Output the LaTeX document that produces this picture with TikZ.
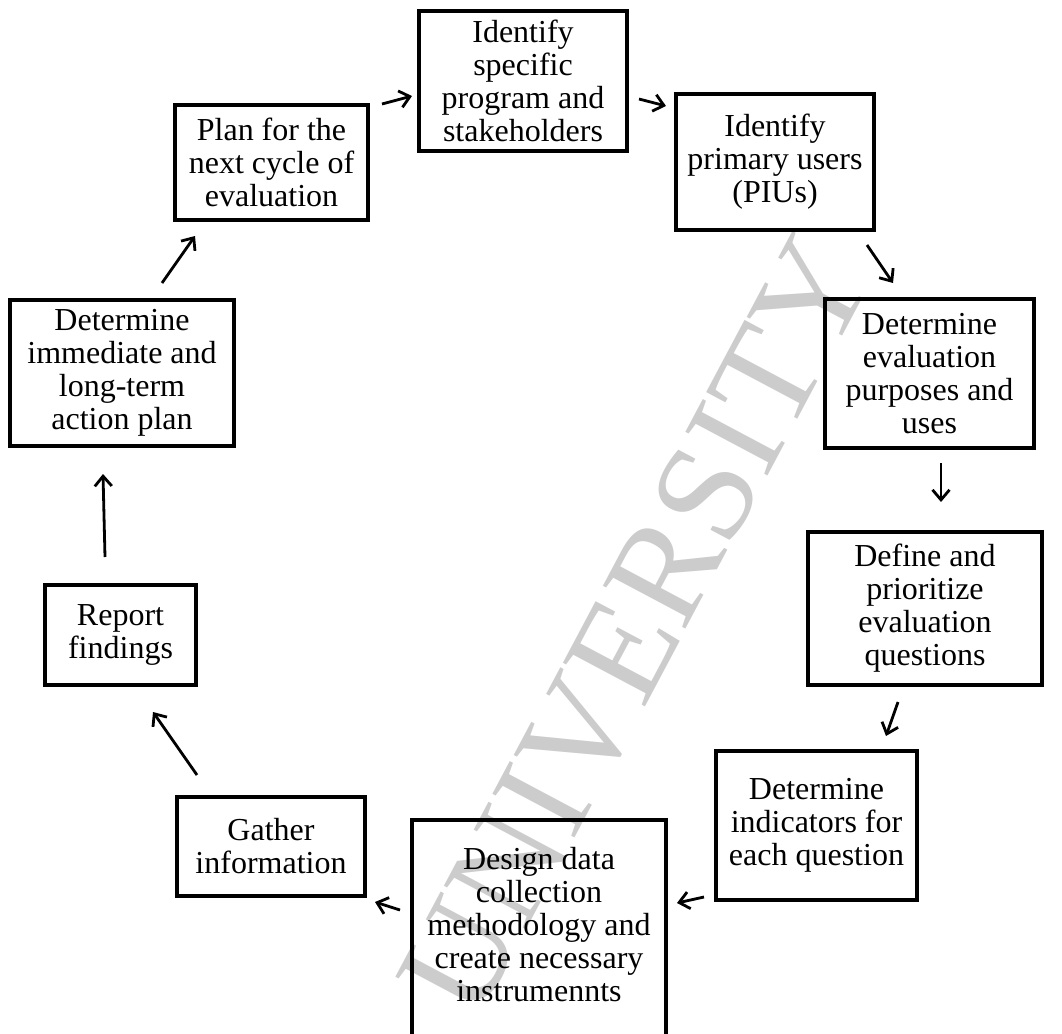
\documentclass[tikz,border=0pt]{standalone}
\usepackage{fontspec}
\setmainfont{Liberation Serif}
\usetikzlibrary{arrows.meta,calc}
\begin{document}
\begin{tikzpicture}[x=1pt,y=-1pt,
  box/.style={draw, line width=4pt, align=center, inner sep=0pt,
    font=\fontsize{32}{33}\selectfont},
  txt/.style={align=center, inner sep=0pt, font=\fontsize{32}{33}\selectfont},
  arr/.style={line width=2.8pt, -{Straight Barb[length=10pt,width=17pt]}},
  wmark/.style={text=black!20, inner sep=0pt, font=\fontsize{142}{142}\selectfont}]
\useasboundingbox (0,0) rectangle (1062,1033);
% watermark
\node[wmark, rotate=62] (wm) at (636,626) {UNIVERSITY};
% boxes
\node[box, minimum width=208pt, minimum height=140pt] (n1) at (523,81) {Identify\\specific\\program and\\stakeholders};
\node[box, minimum width=198pt, minimum height=136pt] (n2) at (775,162) {Identify\\primary users\\(PIUs)};
\node[box, minimum width=209pt, minimum height=149pt] (n3) at (929.5,373.5) {Determine\\evaluation\\purposes and\\uses};
\node[box, minimum width=234pt, minimum height=153pt] (n4) at (925,608.5) {Define and\\prioritize\\evaluation\\questions};
\node[box, minimum width=201pt, minimum height=149pt] (n5) at (816.5,825.5) {Determine\\indicators for\\each question};
\node[box, minimum width=254pt, minimum height=223pt] (n6) at (539,931.5) {};
\node[txt] (n6t) at (539,925) {Design data\\collection\\methodology and\\create necessary\\instrumennts};
\node[box, minimum width=188pt, minimum height=99pt] (n7) at (271,846.5) {Gather\\information};
\node[box, minimum width=151pt, minimum height=100pt] (n8) at (120.5,635) {Report\\findings};
\node[box, minimum width=224pt, minimum height=146pt] (n9) at (122,373) {Determine\\immediate and\\long-term\\action plan};
\node[box, minimum width=193pt, minimum height=115pt] (n10) at (271.5,162.5) {Plan for the\\next cycle of\\evaluation};
% connectors
\draw[arr] ($(n10.east)+(12,-58.5)$) -- ($(n1.west)+(-5,15)$);
\draw[arr] ($(n1.east)+(10,18)$) -- ($(n2.west)+(-8,-56)$);
\draw[arr] ($(n2.south east)+(-9,13)$) -- ($(n3.north west)+(70,-14)$);
\draw[arr] ($(n3.south)+(11.5,13)$) -- ($(n4.north)+(16,-28)$);
\draw[arr] ($(n4.south)+(-27,15)$) -- ($(n5.north)+(69.5,-13)$);
\draw[arr] ($(n5.west)+(-10,71.5)$) -- ($(n6.east)+(9,-28.5)$);
\draw[arr] ($(n6.west)+(-10,-21.5)$) -- ($(n7.south east)+(8,4)$);
\draw[arr] ($(n7.north)+(-74,-20)$) -- ($(n8.south)+(32.5,25)$);
\draw[arr] ($(n8.north)+(-15.5,-26)$) -- ($(n9.south)+(-19,26)$);
\draw[arr] ($(n9.north)+(40,-15)$) -- ($(n10.south)+(-76.5,14)$);
\end{tikzpicture}
\end{document}
